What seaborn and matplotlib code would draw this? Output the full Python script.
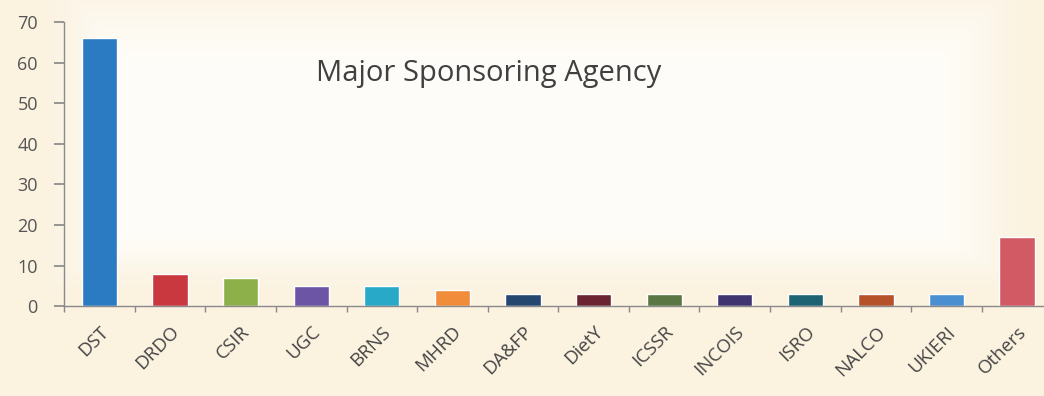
import matplotlib
matplotlib.use("Agg")
import matplotlib.pyplot as plt
import seaborn as sns
import numpy as np
import pandas as pd

categories = ["DST", "DRDO", "CSIR", "UGC", "BRNS", "MHRD", "DA&FP", "DietY",
              "ICSSR", "INCOIS", "ISRO", "NALCO", "UKIERI", "Others"]
values = [66, 8, 7, 5, 5, 4, 3, 3, 3, 3, 3, 3, 3, 17]
colors = ["#2a7bc1", "#c9373f", "#8db04a", "#6c55a5", "#28a9c8", "#f08c3a",
          "#24476f", "#6b2432", "#5a7743", "#3f3470", "#1e6373", "#b5522a",
          "#4a8fcf", "#d25a64"]
yticks = [0, 10, 20, 30, 40, 50, 60, 70]
title = "Major Sponsoring Agency"

sns.set_theme(style="white")
plt.rcParams['font.family'] = ['Open Sans', 'DejaVu Sans']

df = pd.DataFrame({"agency": categories, "count": values})

W, H = 1044, 396
fig = plt.figure(figsize=(W / 100, H / 100), dpi=100, facecolor="#fbf2df")

# soft background: cream page with a whitish glow behind the plot
bg = fig.add_axes([0, 0, 1, 1], zorder=-10)
yy, xx = np.mgrid[0:H, 0:W]
d = np.minimum.reduce([(xx - 30) * 1.0, (1040 - xx) * 1.0,
                       (yy + 40) * 1.0, (300 - yy) * 1.5]).astype(float)
a = np.clip(d / 110.0, 0, 1)
a = a * a * (3 - 2 * a) * 0.9
base = np.array([251, 242, 224]) / 255.0
white = np.array([255, 254, 251]) / 255.0
img = base[None, None, :] * (1 - a[..., None]) + white[None, None, :] * a[..., None]
bg.imshow(img, aspect="auto", extent=[0, W, H, 0])
bg.axis("off")

ax = fig.add_axes([0.0615, 0.227, 0.9465, 0.717])
ax.set_facecolor("none")

sns.barplot(data=df, x="agency", y="count", hue="agency", palette=colors,
            legend=False, width=0.5, ax=ax, saturation=1)

ax.set_xlim(-0.5, len(categories) - 0.5)
ax.set_ylim(0, 70)
ax.set_yticks(yticks)
ax.set_xlabel("")
ax.set_ylabel("")

for s in ["top", "right"]:
    ax.spines[s].set_visible(False)
for s in ["left", "bottom"]:
    ax.spines[s].set_color("#8a8a8a")
    ax.spines[s].set_linewidth(1.0)

ax.tick_params(axis="y", which="major", left=True, length=7, color="#8a8a8a",
               labelsize=13, labelcolor="#555555", pad=12)
ax.set_xticks(range(len(categories)))
ax.set_xticklabels(categories, rotation=45, ha="right", rotation_mode="anchor",
                   fontsize=13.5, color="#454545")
ax.tick_params(axis="x", which="major", bottom=True, length=0, pad=12)
ax.set_xticks(np.arange(-0.5, len(categories), 1.0), minor=True)
ax.tick_params(axis="x", which="minor", bottom=True, length=4, color="#8a8a8a")

ax.text(0.255, 0.82, title, transform=ax.transAxes, fontsize=21,
        color="#404040", ha="left", va="center")

fig.savefig("out.png", dpi=100, facecolor=fig.get_facecolor())
